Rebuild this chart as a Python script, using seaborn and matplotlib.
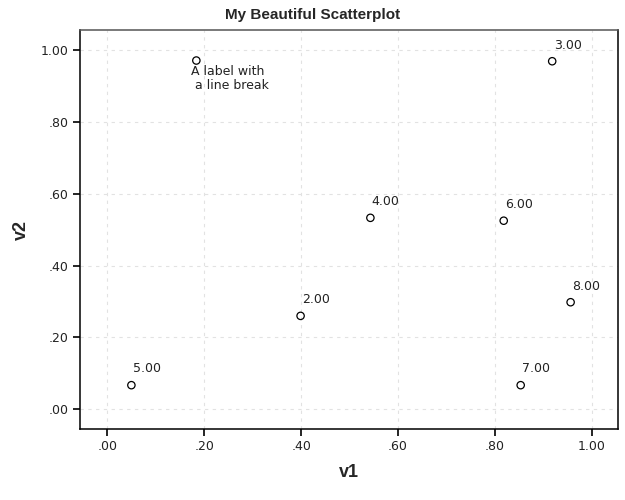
import matplotlib
matplotlib.use("Agg")
import matplotlib.pyplot as plt
import seaborn as sns
import pandas as pd

# data
v1 = [0.184, 0.399, 0.918, 0.543, 0.050, 0.818, 0.853, 0.956]
v2 = [0.971, 0.260, 0.969, 0.533, 0.067, 0.525, 0.067, 0.298]
point_labels = ["A label with\n a line break", "2.00", "3.00", "4.00",
                "5.00", "6.00", "7.00", "8.00"]
tick_values = [0.0, 0.2, 0.4, 0.6, 0.8, 1.0]
tick_labels = [".00", ".20", ".40", ".60", ".80", "1.00"]

df = pd.DataFrame({"v1": v1, "v2": v2, "label": point_labels})

sns.set_style("white")
plt.rcParams["font.family"] = ["DejaVu Sans"]

fig = plt.figure(figsize=(6.25, 5), dpi=100)
ax = fig.add_axes([0.128, 0.142, 0.861, 0.798])

sns.scatterplot(data=df, x="v1", y="v2", ax=ax, marker="o", s=28,
                facecolor="none", edgecolor="black", linewidth=0.9, zorder=3)

# point labels
for _, row in df.iterrows():
    if "\n" in row["label"]:
        ax.annotate(row["label"], (row["v1"], row["v2"]), xytext=(-4, -3),
                    textcoords="offset points", ha="left", va="top",
                    fontsize=9, color="#222222", linespacing=1.1)
    else:
        ax.annotate(row["label"], (row["v1"], row["v2"]), xytext=(1, 7),
                    textcoords="offset points", ha="left", va="bottom",
                    fontsize=9, color="#222222")

ax.set_xlim(-0.056, 1.054)
ax.set_ylim(-0.055, 1.056)
ax.set_xticks(tick_values)
ax.set_xticklabels(tick_labels)
ax.set_yticks(tick_values)
ax.set_yticklabels(tick_labels)
ax.tick_params(axis="both", direction="out", length=5, width=1.2,
               labelsize=9, colors="black", labelcolor="#222222",
               bottom=True, left=True, pad=3)

ax.grid(True, linestyle=(0, (3, 4)), color="#e2e2e2", linewidth=0.8)
ax.set_axisbelow(True)

for side in ["left", "bottom", "right"]:
    ax.spines[side].set_color("black")
    ax.spines[side].set_linewidth(1.1)
ax.spines["top"].set_color("#555555")
ax.spines["top"].set_linewidth(1.1)

lab_font = {"family": "Liberation Sans", "weight": "bold", "size": 13}
ax.set_xlabel("v1", fontdict=lab_font, labelpad=8)
ax.set_ylabel("v2", fontdict=lab_font, labelpad=8)
# title is centred on the figure, not on the axes
fig.suptitle("My Beautiful Scatterplot", x=0.5, y=0.985, va="top",
             fontfamily="Liberation Sans", fontweight="bold", fontsize=11)

fig.savefig("out.png", dpi=100)
